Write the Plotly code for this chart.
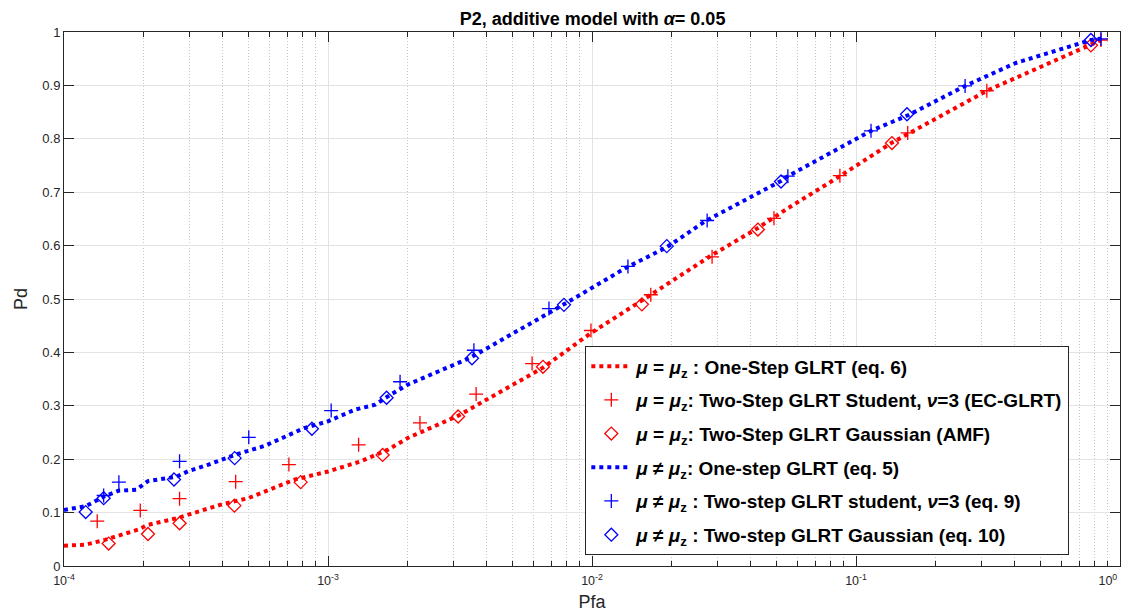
import plotly.graph_objects as go

# ---- data ----
red_line_x = [1e-4, 1.21e-4, 1.43e-4, 1.905e-4, 2.08e-4, 2.70e-4, 3.93e-4, 4.98e-4, 7.5e-4,
              1.0e-3, 1.33e-3, 1.69e-3, 2.01e-3, 3.1e-3, 6.5e-3, 9.9e-3, 1.67e-2, 2.8e-2,
              4.25e-2, 5.52e-2, 8.69e-2, 0.136, 0.316, 0.776, 0.85]
red_line_y = [0.038, 0.040, 0.049, 0.068, 0.077, 0.090, 0.115, 0.127, 0.162,
              0.177, 0.196, 0.218, 0.240, 0.281, 0.371, 0.436, 0.508, 0.580,
              0.633, 0.670, 0.730, 0.792, 0.891, 0.975, 0.985]

red_plus_x = [1.336e-4, 1.945e-4, 2.74e-4, 4.47e-4, 7.11e-4, 1.306e-3, 2.23e-3, 3.64e-3,
              5.93e-3, 9.91e-3, 1.67e-2, 2.85e-2, 4.89e-2, 8.69e-2, 0.157, 0.313, 0.847]
red_plus_y = [0.084, 0.104, 0.126, 0.158, 0.190, 0.227, 0.268, 0.322,
              0.379, 0.441, 0.508, 0.579, 0.651, 0.731, 0.811, 0.890, 0.985]

red_diam_x = [1.476e-4, 2.08e-4, 2.74e-4, 4.42e-4, 7.88e-4, 1.61e-3, 3.11e-3, 6.52e-3,
              1.545e-2, 4.25e-2, 0.1368, 0.776]
red_diam_y = [0.042, 0.060, 0.080, 0.113, 0.157, 0.208, 0.280, 0.373,
              0.490, 0.630, 0.792, 0.975]

blue_line_x = [1e-4, 1.21e-4, 1.43e-4, 1.61e-4, 1.88e-4, 2.08e-4, 2.66e-4, 2.97e-4, 3.53e-4,
               4.43e-4, 5.76e-4, 8.1e-4, 1.0e-3, 1.27e-3, 1.51e-3, 1.69e-3, 2.01e-3,
               3.46e-3, 7.83e-3, 1.34e-2, 1.92e-2, 2.69e-2, 5.2e-2, 5.52e-2, 0.114,
               0.159, 0.259, 0.403, 0.776, 0.85]
blue_line_y = [0.105, 0.112, 0.131, 0.141, 0.143, 0.159, 0.167, 0.178, 0.190,
               0.208, 0.225, 0.258, 0.271, 0.293, 0.302, 0.318, 0.340,
               0.390, 0.490, 0.558, 0.597, 0.646, 0.721, 0.730, 0.815,
               0.845, 0.899, 0.942, 0.985, 0.988]

blue_plus_x = [1.413e-4, 1.614e-4, 2.74e-4, 5.01e-4, 1.028e-3, 1.875e-3, 3.57e-3, 6.87e-3,
               1.368e-2, 2.73e-2, 5.52e-2, 0.114, 0.259, 0.847]
blue_plus_y = [0.132, 0.157, 0.196, 0.241, 0.291, 0.345, 0.404, 0.482,
               0.561, 0.647, 0.730, 0.815, 0.899, 0.987]

blue_diam_x = [1.208e-4, 1.413e-4, 2.61e-4, 4.43e-4, 8.69e-4, 1.667e-3, 3.51e-3, 7.83e-3,
               1.92e-2, 5.2e-2, 0.156, 0.776]
blue_diam_y = [0.101, 0.127, 0.162, 0.202, 0.257, 0.315, 0.389, 0.489,
               0.599, 0.720, 0.846, 0.985]

names = [
    "<i>μ</i> = <i>μ</i><sub>z</sub> : One-Step GLRT (eq. 6)",
    "<i>μ</i> = <i>μ</i><sub>z</sub>: Two-Step GLRT Student, <i>ν</i>=3 (EC-GLRT)",
    "<i>μ</i> = <i>μ</i><sub>z</sub>: Two-Step GLRT Gaussian (AMF)",
    "<i>μ</i> ≠ <i>μ</i><sub>z</sub>: One-step GLRT (eq. 5)",
    "<i>μ</i> ≠ <i>μ</i><sub>z</sub> : Two-step GLRT student, <i>ν</i>=3 (eq. 9)",
    "<i>μ</i> ≠ <i>μ</i><sub>z</sub> : Two-step GLRT Gaussian (eq. 10)",
]

x_tickvals = [1e-4, 1e-3, 1e-2, 1e-1, 1]
x_ticktext = ["10<sup>-4</sup>", "10<sup>-3</sup>", "10<sup>-2</sup>", "10<sup>-1</sup>",
              "10<sup>0</sup>&nbsp;&nbsp;&nbsp;&nbsp;&nbsp;&nbsp;&nbsp;"]
y_tickvals = [0, 0.1, 0.2, 0.3, 0.4, 0.5, 0.6, 0.7, 0.8, 0.9, 1]
y_ticktext = ["0", "0.1", "0.2", "0.3", "0.4", "0.5", "0.6", "0.7", "0.8", "0.9", "1"]
minor_vals = [k * 10.0 ** e for e in range(-4, 0) for k in range(2, 10)]

RED = "#ff0000"
BLUE = "#0000ff"

def nm(i):
    return "<b>" + names[i] + "</b>"

fig = go.Figure()
fig.add_trace(go.Scatter(x=red_line_x, y=red_line_y, mode="lines", name=nm(0), legendgroup="g0",
                         line=dict(color=RED, width=4, dash="dot")))
fig.add_trace(go.Scatter(x=red_plus_x, y=red_plus_y, mode="markers", name=nm(1), legendgroup="g1",
                         marker=dict(symbol="cross-thin", size=10, line=dict(color=RED, width=1.3))))
fig.add_trace(go.Scatter(x=red_diam_x, y=red_diam_y, mode="markers", name=nm(2), legendgroup="g2",
                         marker=dict(symbol="diamond-open", size=10, color=RED, line=dict(color=RED, width=1.3))))
fig.add_trace(go.Scatter(x=blue_line_x, y=blue_line_y, mode="lines", name=nm(3), legendgroup="g3",
                         line=dict(color=BLUE, width=4, dash="dot")))
fig.add_trace(go.Scatter(x=blue_plus_x, y=blue_plus_y, mode="markers", name=nm(4), legendgroup="g4",
                         marker=dict(symbol="cross-thin", size=10, line=dict(color=BLUE, width=1.3))))
fig.add_trace(go.Scatter(x=blue_diam_x, y=blue_diam_y, mode="markers", name=nm(5), legendgroup="g5",
                         marker=dict(symbol="diamond-open", size=10, color=BLUE, line=dict(color=BLUE, width=1.3))))

AX = "#262626"
FONT = "Liberation Sans, Arial, Helvetica, sans-serif"
fig.update_layout(
    width=1133, height=615,
    margin=dict(l=56, r=21, t=24, b=57, autoexpand=False),
    paper_bgcolor="white", plot_bgcolor="white",
    font=dict(family=FONT, color=AX),
    title=dict(text="<b>P2, additive model with <i>α</i>= 0.05</b>", x=0.5159, xanchor="center",
               y=0.982, yanchor="middle", font=dict(size=18, color="black")),
    showlegend=True,
    legend=dict(x=0.952, y=0.02, xanchor="right", yanchor="bottom",
                bgcolor="white", bordercolor=AX, borderwidth=1,
                font=dict(size=19, color="black", family=FONT),
                tracegroupgap=6, itemwidth=40),
)
fig.update_xaxes(
    type="log", range=[-4, 0], tickmode="array", tickvals=x_tickvals, ticktext=x_ticktext,
    ticks="inside", ticklen=10, tickcolor=AX, showline=True, linecolor=AX, linewidth=1,
    mirror="allticks", showgrid=True, gridcolor="#e3e3e3", gridwidth=1,
    tickfont=dict(size=12.5, color=AX), zeroline=False, ticklabelstandoff=3,
    ticklabeloverflow="allow", automargin=False,
    title=dict(text="Pfa", font=dict(size=18, color=AX), standoff=8),
    minor=dict(tickmode="array", tickvals=minor_vals, ticks="inside", ticklen=5, tickcolor=AX,
               showgrid=True, gridcolor="#c8c8c8", griddash="1px,2px", gridwidth=1),
)
fig.update_yaxes(
    range=[0, 1], tickmode="array", tickvals=y_tickvals, ticktext=y_ticktext,
    ticks="inside", ticklen=10, tickcolor=AX, showline=True, linecolor=AX, linewidth=1,
    mirror="allticks", showgrid=True, gridcolor="#e3e3e3", gridwidth=1,
    tickfont=dict(size=13, color=AX), zeroline=False, automargin=False,
    title=dict(text="Pd", font=dict(size=18, color=AX), standoff=10),
)

fig.write_html("out.html")
